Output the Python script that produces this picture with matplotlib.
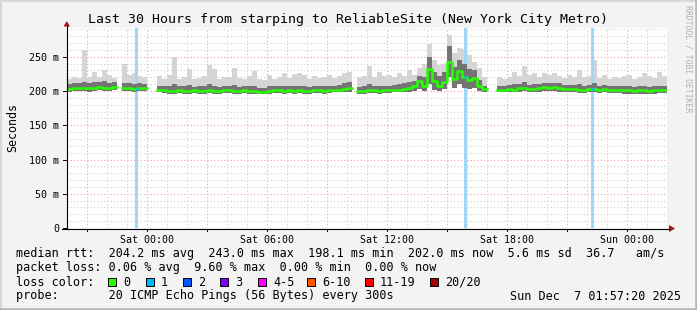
import numpy as np
import matplotlib
matplotlib.use('Agg')
import matplotlib.pyplot as plt
from matplotlib.patches import Rectangle, Polygon

plt.rcParams['font.family'] = ['DejaVu Sans Mono']

nan = float('nan')

# ---------------- data (15-minute slots, hours relative to Sat 00:00) ----------------
slot_hours = 0.25
start_hour = -4.0
end_hour = 26.0

med_a = [203, 204, 204, 205, 204, 205, 206, 205, 205, 206]
med_b = [204, 204, 203, 204, 204]
med_c = [202, 201, 200, 200, 201, 200, 200, 201, 200, 200, 201, 200, 200, 201, 201, 200, 200, 201, 200, 200,
         199, 199, 200, 201, 201, 200, 201, 200, 201, 200, 200, 201, 201, 200, 201, 202, 202, 203, 205]
med_d = [200, 200, 201, 201, 200, 201, 201, 202, 202, 203, 204, 207, 214, 208, 232, 214, 207, 213, 243, 217,
         229, 220, 216, 219, 207, 203]
med_e = [202, 202, 203, 202, 204, 205, 203, 203, 204, 206, 205, 206, 205, 203, 203, 203, 202, 202, 203, 203,
         202, 203, 202, 202, 202, 201, 201, 200, 201, 201, 200, 201, 201, 202]

hi_a = [218, 220, 219, 260, 221, 228, 220, 231, 224, 219]
hi_b = [240, 224, 226, 222, 220]
hi_c = [222, 217, 224, 249, 218, 220, 232, 217, 219, 222, 238, 232, 218, 221, 220, 233, 219, 218, 222, 229,
        217, 216, 223, 218, 220, 226, 219, 225, 226, 224, 218, 222, 219, 221, 224, 219, 222, 226, 228]
hi_d = [220, 222, 236, 221, 228, 222, 224, 220, 226, 222, 230, 223, 233, 240, 268, 246, 238, 240, 282, 256,
        263, 262, 252, 243, 234, 220]
hi_e = [221, 218, 220, 228, 222, 236, 224, 226, 221, 226, 224, 226, 222, 219, 223, 221, 230, 220, 222, 245,
        219, 224, 218, 221, 219, 222, 224, 217, 220, 226, 222, 219, 228, 222]

q3_a = [210, 211, 211, 213, 211, 213, 213, 214, 212, 213]
q3_b = [212, 211, 210, 211, 210]
q3_c = [208, 207, 207, 210, 207, 207, 209, 206, 207, 207, 210, 208, 206, 207, 208, 209, 206, 207, 207, 208,
        205, 205, 207, 207, 208, 207, 207, 208, 208, 207, 206, 208, 207, 207, 208, 208, 209, 211, 213]
q3_d = [206, 207, 210, 208, 208, 208, 208, 209, 210, 211, 213, 215, 222, 220, 250, 228, 222, 228, 265, 235,
        245, 240, 232, 230, 216, 208]
q3_e = [208, 207, 209, 210, 210, 213, 209, 210, 210, 212, 211, 212, 211, 209, 209, 209, 210, 208, 209, 212,
        208, 209, 207, 208, 207, 207, 208, 206, 207, 208, 206, 207, 208, 208]

lo_a = [199, 200, 200, 200, 199, 200, 201, 200, 200, 201]
lo_b = [200, 200, 199, 200, 200]
lo_c = [198, 197, 196, 196, 197, 196, 196, 197, 196, 196, 197, 196, 196, 197, 197, 196, 196, 197, 196, 196,
        195, 195, 196, 197, 197, 196, 197, 196, 197, 196, 196, 197, 197, 196, 197, 198, 198, 198, 199]
lo_d = [196, 196, 197, 197, 196, 197, 197, 198, 198, 198, 199, 200, 203, 200, 210, 202, 200, 203, 220, 205,
        210, 205, 203, 204, 200, 198]
lo_e = [198, 198, 198, 198, 199, 200, 198, 198, 199, 200, 200, 200, 199, 198, 198, 198, 197, 197, 198, 198,
        197, 198, 197, 197, 197, 196, 196, 196, 196, 196, 196, 196, 197, 197]

gap1, gap2, gap3, gap4 = [nan], [nan, nan], [nan], [nan, nan]

def join(a, b, c, d, e):
    return np.array(a + gap1 + b + gap2 + c + gap3 + d + gap4 + e, dtype=float)

median_ms = join(med_a, med_b, med_c, med_d, med_e)
max_ms = join(hi_a, hi_b, hi_c, hi_d, hi_e)
upper_ms = join(q3_a, q3_b, q3_c, q3_d, q3_e)
min_ms = join(lo_a, lo_b, lo_c, lo_d, lo_e)

loss_hours = [-0.62, 15.85, 22.2]
loss_width = 0.15

x_tick_hours = [0, 6, 12, 18, 24]
x_tick_labels = ['Sat 00:00', 'Sat 06:00', 'Sat 12:00', 'Sat 18:00', 'Sun 00:00']
y_tick_values = [0, 50, 100, 150, 200, 250]
y_tick_labels = ['0', '50 m', '100 m', '150 m', '200 m', '250 m']

title = 'Last 30 Hours from starping to ReliableSite (New York City Metro)'
row1 = 'median rtt:  204.2 ms avg  243.0 ms max  198.1 ms min  202.0 ms now  5.6 ms sd  36.7   am/s'
row2 = 'packet loss: 0.06 % avg  9.60 % max  0.00 % min  0.00 % now'
row3 = 'loss color:'
row4 = 'probe:       20 ICMP Echo Pings (56 Bytes) every 300s'
stamp = 'Sun Dec  7 01:57:20 2025'
loss_names = ['0', '1', '2', '3', '4-5', '6-10', '11-19', '20/20']
loss_colors = ['#26ff00', '#00b8ff', '#0059ff', '#7e00ff', '#ff00ff', '#ff5500', '#ff0000', '#a10000']

# ---------------- figure ----------------
W, H = 697, 310
fig = plt.figure(figsize=(W / 100, H / 100), dpi=100, facecolor='#f3f3f3')
L, R, T, B = 67, 667, 28, 228
ax = fig.add_axes([L / W, 1 - B / H, (R - L) / W, (B - T) / H])
ax.set_facecolor('white')
ymax = 292
ax.set_xlim(start_hour, end_hour)
ax.set_ylim(0, ymax)

t = start_hour + slot_hours * np.arange(len(median_ms))

# grid
for h in np.arange(start_hour + 1, end_hour, 1.0):
    major = (h % 3 == 0)
    ax.axvline(h, color='#f4a0a0' if major else '#cfcfcf', lw=0.8, ls=(0, (1, 2)), zorder=0.5)
for v in range(10, ymax, 10):
    major = (v % 50 == 0)
    ax.axhline(v, color='#f4a0a0' if major else '#cfcfcf', lw=0.8, ls=(0, (1, 2)), zorder=0.5)

# smoke
ax.bar(t, max_ms - min_ms, bottom=min_ms, width=slot_hours, align='edge', color='#d5d5d5',
       linewidth=0, antialiased=False, zorder=1)
for lh in loss_hours:
    ax.axvspan(lh, lh + loss_width, color='#9fd8f6', lw=0, zorder=1.5)
ax.bar(t, upper_ms - min_ms, bottom=min_ms, width=slot_hours, align='edge', color='#747474',
       linewidth=0, antialiased=False, zorder=2)

# median line
t_ext = np.append(t, end_hour)
m_ext = np.append(median_ms, median_ms[-1])
ax.step(t_ext, m_ext, where='post', color='#26ff00', lw=1.8, zorder=3)
for lh in loss_hours:
    idx = int((lh - start_hour) / slot_hours)
    ax.hlines(median_ms[idx], lh, lh + loss_width, color='#00b8ff', lw=1.8, zorder=3.5)

for s in ax.spines.values():
    s.set_visible(False)
ax.set_xticks(x_tick_hours)
ax.set_xticklabels(x_tick_labels)
ax.set_yticks(y_tick_values)
ax.set_yticklabels(y_tick_labels)
ax.tick_params(axis='both', length=0, labelsize=7.2, colors='#000000')
ax.tick_params(axis='x', pad=5)
ax.tick_params(axis='y', pad=5.5)

# ---------------- overlay (pixel coordinates) ----------------
ov = fig.add_axes([0, 0, 1, 1], zorder=5)
ov.set_xlim(0, W)
ov.set_ylim(H, 0)
ov.axis('off')
ov.patch.set_alpha(0)

# axes lines and arrows
ov.plot([66.5, 66.5], [229, 26], color='#000000', lw=0.8)
ov.plot([62, 669], [228.5, 228.5], color='#000000', lw=0.8)
for v in y_tick_values:
    yy = 228 - v * (B - T) / ymax
    ov.plot([63, 66.5], [yy, yy], color='#000000', lw=0.7)
for h in np.arange(start_hour + 1, end_hour, 3.0):
    xx = L + (h - start_hour) * (R - L) / (end_hour - start_hour)
    ov.plot([xx, xx], [228.5, 231], color='#000000', lw=0.7)
ov.add_patch(Polygon([(63.5, 26.5), (70, 26.5), (66.8, 21)], closed=True, color='#a31515', lw=0))
ov.add_patch(Polygon([(669, 225), (669, 232), (675, 228.5)], closed=True, color='#a31515', lw=0))

# texts
ov.text(347.5, 23, title, ha='center', va='baseline', fontsize=9.5, color='#000000')
ov.text(12.5, 127, 'Seconds', rotation=90, ha='center', va='center', fontsize=8.4, color='#000000')
ov.text(688, 5, 'RRDTOOL / TOBI OETIKER', rotation=270, ha='center', va='top', fontsize=5.9,
        color='#b0b0b0')
fs = 8.45
ov.text(16, 257.5, row1, ha='left', va='baseline', fontsize=fs)
ov.text(16, 271.5, row2, ha='left', va='baseline', fontsize=fs)
ov.text(16, 285.5, row3, ha='left', va='baseline', fontsize=fs)
ov.text(16, 299.5, row4, ha='left', va='baseline', fontsize=fs)
ov.text(681, 299.5, stamp, ha='right', va='baseline', fontsize=fs)

box_x = [108, 146, 183, 220, 258, 307, 365, 430]
for bx, name, col in zip(box_x, loss_names, loss_colors):
    ov.add_patch(Rectangle((bx, 278), 8, 8, facecolor=col, edgecolor='#000000', lw=0.7))
    ov.text(bx + 15, 285.5, name, ha='left', va='baseline', fontsize=fs)

# frame
ov.plot([0.5, W - 0.5], [0.8, 0.8], color='#d9d9d9', lw=1.6)
ov.plot([0.8, 0.8], [0, H], color='#d9d9d9', lw=1.6)
ov.plot([W - 1.2, W - 1.2], [0, H], color='#b5b5b5', lw=1.8)
ov.plot([0, W], [H - 1.2, H - 1.2], color='#b5b5b5', lw=1.8)

fig.savefig('out.png', dpi=100, facecolor=fig.get_facecolor())
